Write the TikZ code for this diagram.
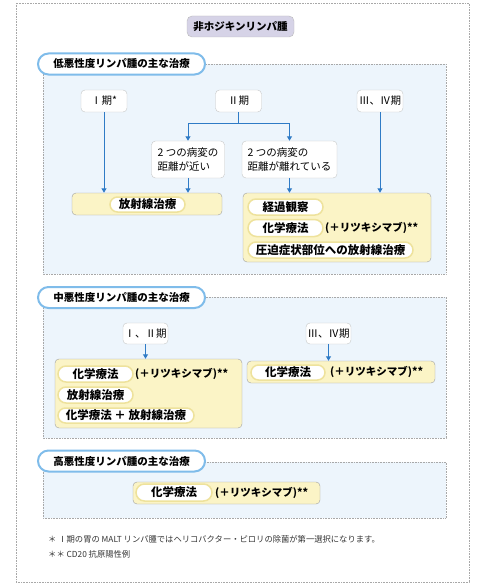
\documentclass[tikz,border=0pt]{standalone}
\usepackage{fontspec}
\newfontfamily\jp{Noto Sans CJK JP}
\usetikzlibrary{arrows.meta,shapes.misc}
\definecolor{panelblue}{HTML}{EDF5FC}
\definecolor{hdrblue}{HTML}{7FBCEA}
\definecolor{arrblue}{HTML}{2F7BC6}
\definecolor{yfill}{HTML}{FBF4C6}
\definecolor{pillyel}{HTML}{EEE29C}
\definecolor{titlefill}{HTML}{D6D3E7}
\definecolor{framegray}{HTML}{A8A8A8}
\begin{document}
\begin{tikzpicture}[x=1pt,y=-1pt,font=\jp,
  frame/.style={draw=framegray,densely dotted,line width=0.6pt},
  panel/.style={draw=framegray,densely dotted,line width=0.6pt,fill=panelblue},
  titlebox/.style={draw=gray!55,fill=titlefill,rounded corners=5pt,inner sep=0pt,font=\jp\bfseries\fontsize{10.5}{12}\selectfont},
  hdr/.style={rounded rectangle,draw=hdrblue,line width=2pt,fill=white,inner sep=0pt,minimum width=167pt,minimum height=21pt,font=\jp\bfseries\fontsize{10.5}{12}\selectfont},
  stagebox/.style={draw=gray!45,fill=white,rounded corners=4pt,inner sep=0pt,font=\jp\fontsize{10.5}{12}\selectfont},
  condbox/.style={draw=gray!45,fill=white,rounded corners=4pt,inner sep=0pt,align=left,font=\jp\fontsize{10.5}{14}\selectfont},
  ybox/.style={draw=gray!75,fill=yfill,rounded corners=4pt,inner sep=0pt},
  pill/.style={rounded rectangle,draw=pillyel,line width=1.5pt,fill=white,inner sep=0pt,font=\jp\bfseries\fontsize{11.5}{13}\selectfont},
  extra/.style={anchor=west,inner sep=0pt,font=\jp\bfseries\fontsize{10.5}{12}\selectfont},
  note/.style={anchor=west,inner sep=0pt,text=black!80,font=\jp\fontsize{8.3}{10}\selectfont},
  arr/.style={draw=arrblue,line width=1pt,-{Triangle[length=4.5pt,width=5pt]}},
  ln/.style={draw=arrblue,line width=1pt}]
\useasboundingbox (0,0) rectangle (484,586);
% outer frame
\draw[frame] (16,3) rectangle (469,582);
\node[titlebox,minimum width=107pt,minimum height=21pt] (title) at (240.5,26.5) {非ホジキンリンパ腫};

% ===== Section 1 =====
\draw[panel] (43,64) rectangle (446,274);
\node[hdr] (h1) at (121.5,64) {低悪性度リンパ腫の主な治療};
\node[stagebox,minimum width=46pt,minimum height=22pt] (s1) at (104,101) {Ⅰ期*};
\node[stagebox,minimum width=46pt,minimum height=22pt] (s2) at (238.5,101) {Ⅱ期};
\node[stagebox,minimum width=46pt,minimum height=22pt] (s34) at (380,101) {Ⅲ、Ⅳ期};
\node[condbox,minimum width=73pt,minimum height=37pt] (near) at (188,159.5) {2 つの病変の\\距離が近い};
\node[condbox,minimum width=95pt,minimum height=37pt] (far) at (289.5,159.5) {2 つの病変の\\距離が離れている};
\node[ybox,minimum width=150pt,minimum height=22pt] (yl) at (147,204) {};
\node[pill,minimum width=75pt,minimum height=15pt] (p1) at (147.5,204.5) {放射線治療};
\node[ybox,minimum width=188pt,minimum height=69pt] (yr) at (337,227.5) {};
\node[pill,minimum width=75pt,minimum height=16pt] (p2) at (285.5,207) {経過観察};
\node[pill,minimum width=75pt,minimum height=17pt] (p3) at (285.5,228) {化学療法};
\node[extra] (t3) at (325,228) {(＋リツキシマブ)**};
\node[pill,minimum width=165pt,minimum height=16pt] (p4) at (330.5,250) {圧迫症状部位への放射線治療};
\coordinate (j) at (238.5,123);
\draw[ln] (s2.south) -- (j);
\draw[arr] (j) -| (near.north);
\draw[arr] (j) -| (far.north);
\draw[arr] (s1.south) -- (s1.south |- yl.north);
\draw[arr] (near.south) -- (near.south |- yl.north);
\draw[arr] (far.south) -- (far.south |- yr.north);
\draw[arr] (s34.south) -- (s34.south |- yr.north);

% ===== Section 2 =====
\draw[panel] (43,297) rectangle (446,438);
\node[hdr] (h2) at (121.5,297.5) {中悪性度リンパ腫の主な治療};
\node[stagebox,minimum width=45pt,minimum height=21pt] (m12) at (145.5,333.5) {Ⅰ、Ⅱ期};
\node[stagebox,minimum width=45pt,minimum height=21pt] (m34) at (328.5,333.5) {Ⅲ、Ⅳ期};
\node[ybox,minimum width=187pt,minimum height=69pt] (yl2) at (148.5,393.5) {};
\node[pill,minimum width=75pt,minimum height=16pt] (q1) at (95.5,374) {化学療法};
\node[extra] (u1) at (135,374) {(＋リツキシマブ)**};
\node[pill,minimum width=75pt,minimum height=16pt] (q2) at (95.5,395) {放射線治療};
\node[pill,minimum width=136pt,minimum height=15pt] (q3) at (126,415.5) {化学療法 ＋ 放射線治療};
\node[ybox,minimum width=188pt,minimum height=22pt] (yr2) at (341,372) {};
\node[pill,minimum width=74pt,minimum height=15pt] (q4) at (288,372.5) {化学療法};
\node[extra] (u4) at (330,372) {(＋リツキシマブ)**};
\draw[arr] (m12.south) -- (m12.south |- yl2.north);
\draw[arr] (m34.south) -- (m34.south |- yr2.north);

% ===== Section 3 =====
\draw[panel] (43,462) rectangle (446,518);
\node[hdr] (h3) at (121.5,461) {高悪性度リンパ腫の主な治療};
\node[ybox,minimum width=187pt,minimum height=22pt] (y3) at (226.5,493) {};
\node[pill,minimum width=76pt,minimum height=17pt] (r1) at (174,492.5) {化学療法};
\node[extra] (v1) at (215,493) {(＋リツキシマブ)**};

% footnotes
\node[note] (n1) at (48,539) {＊ Ⅰ期の胃の MALT リンパ腫ではヘリコバクター・ピロリの除菌が第一選択になります。};
\node[note] (n2) at (48,554) {＊＊ CD20 抗原陽性例};
\end{tikzpicture}
\end{document}
